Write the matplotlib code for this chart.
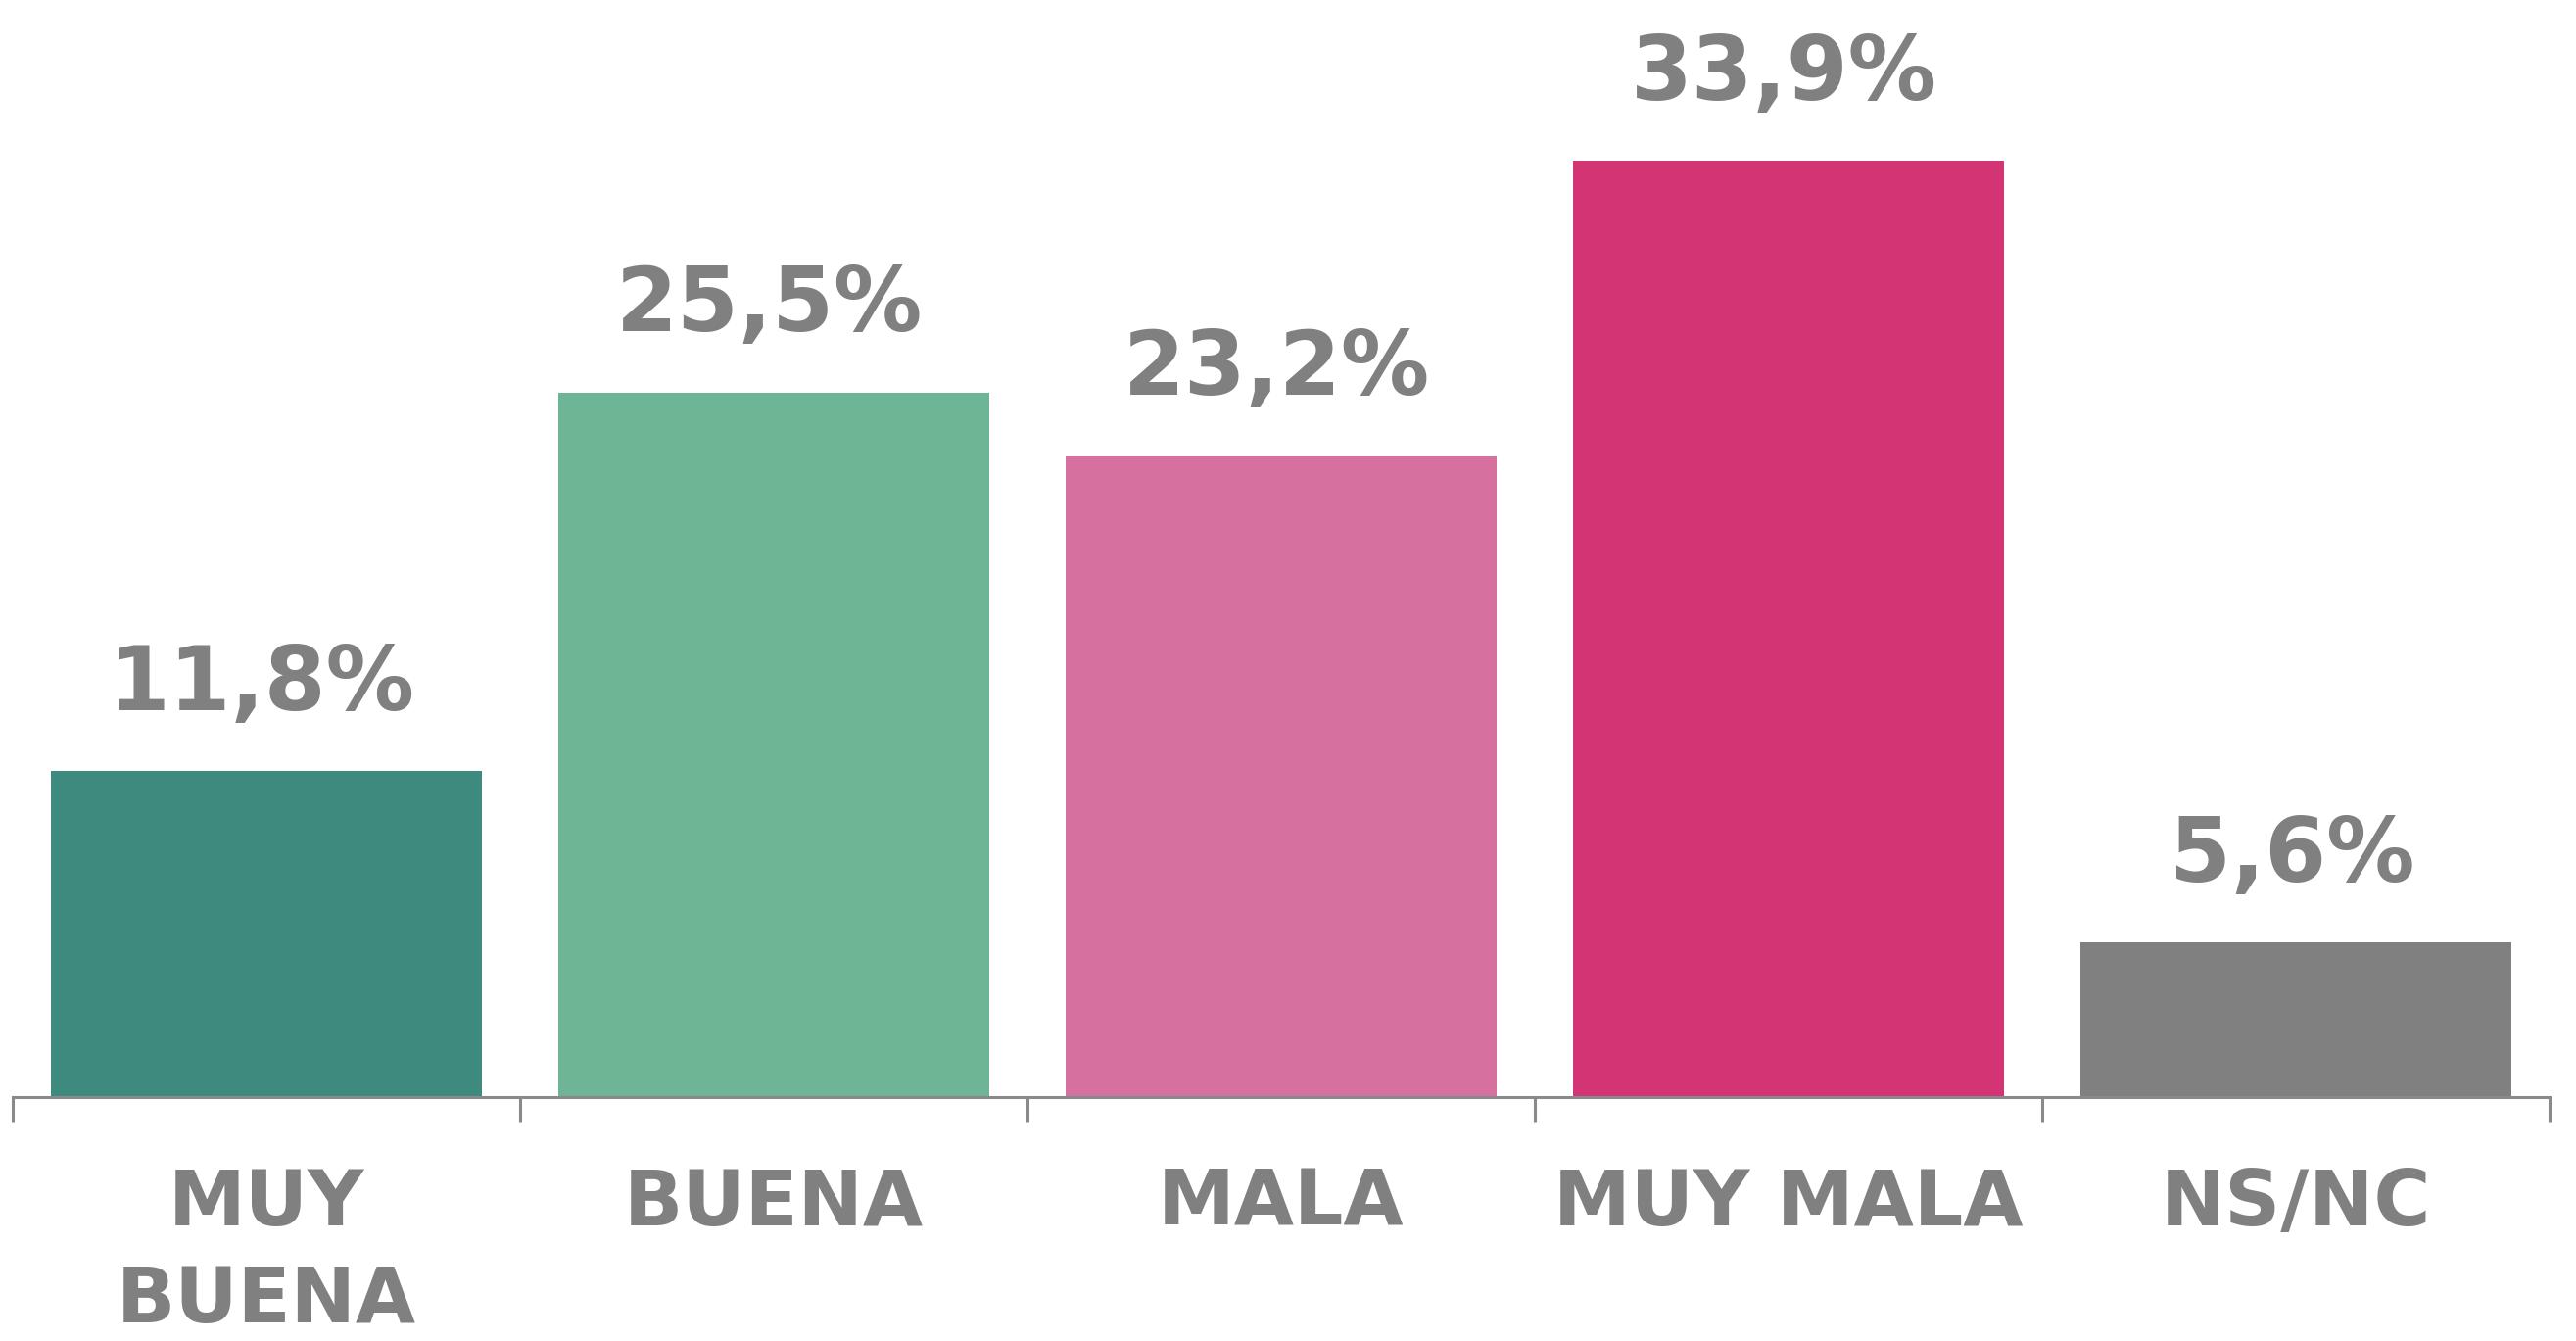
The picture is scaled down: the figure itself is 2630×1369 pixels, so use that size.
import matplotlib
matplotlib.use("Agg")
import matplotlib.pyplot as plt
import numpy as np

categories = ["MUY\nBUENA", "BUENA", "MALA", "MUY MALA", "NS/NC"]
values = [11.8, 25.5, 23.2, 33.9, 5.6]
labels = ["11,8%", "25,5%", "23,2%", "33,9%", "5,6%"]
colors = ["#3E8A7E", "#6DB594", "#D6709F", "#D33474", "#808080"]

TEXT = "#808080"
W, H = 2630, 1369
fig = plt.figure(figsize=(W / 100, H / 100), dpi=100)
base_y = 1120
ax = fig.add_axes([13 / W, (H - base_y) / H, (2603 - 13) / W, base_y / H])
plt.rcParams['font.family'] = ['DejaVu Sans']

x = np.arange(len(values))
ax.bar(x, values, width=0.85, color=colors, zorder=2)
ax.set_xlim(-0.5, len(values) - 0.5)
ax.set_ylim(0, base_y / 28.2)

for xi, v, lab in zip(x, values, labels):
    ax.annotate(lab, (xi, v), xytext=(-3, 45), textcoords="offset points",
                ha="center", va="baseline", fontsize=65, fontweight="bold",
                color=TEXT)

for s in ["top", "right", "left"]:
    ax.spines[s].set_visible(False)
ax.spines["bottom"].set_color("#8A8A8A")
ax.spines["bottom"].set_linewidth(2.2)
ax.set_yticks([])

ax.set_xticks(x)
ax.set_xticklabels(categories, fontsize=57, fontweight="bold", color=TEXT,
                   linespacing=1.38)
ax.tick_params(axis="x", which="major", length=0, pad=51)
ax.set_xticks(np.arange(-0.5, len(values), 1.0), minor=True)
ax.tick_params(axis="x", which="minor", length=18, width=2.2, color="#8A8A8A")

fig.savefig("out.png", dpi=100, facecolor="white")
